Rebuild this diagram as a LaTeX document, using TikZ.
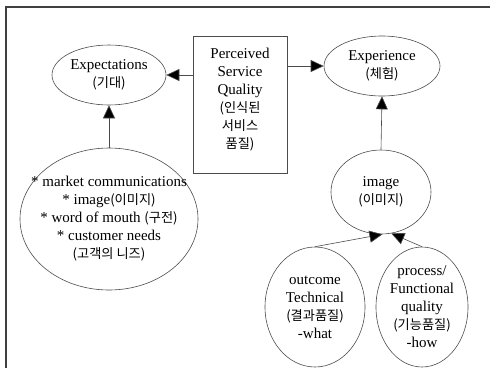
\documentclass[tikz,border=0pt]{standalone}
\usepackage{fontspec}
\setmainfont{Liberation Serif}
\newfontfamily\kr{Noto Sans CJK KR}[Scale=0.88]
\usetikzlibrary{shapes.geometric,arrows.meta}

\begin{document}
\begin{tikzpicture}[x=1pt,y=1pt,
        every node/.style={font=\fontsize{15}{18}\selectfont,align=center,inner sep=0pt},
        oval/.style={ellipse,draw=black!70,line width=0.6pt},
        box/.style={rectangle,draw=black!70,line width=0.6pt}]
        \tikzset{edge/.style = {-{Triangle[length=13pt,width=12pt,fill=black]},draw=black!70,line width=0.6pt}}
        \useasboundingbox (0,0) rectangle (490,-368);
        \draw[black!75,line width=1.3pt] (6,-368) -- (6,-7) -- (490,-7);

        \node[box,minimum width=94pt,minimum height=137pt] (psq) at (240,-104.5) {Perceived\\Service\\Quality\\{\kr(인식된}\\{\kr 서비스}\\{\kr 품질)}\\[-5pt]\mbox{}};
        \node[oval,minimum width=114pt,minimum height=60pt] (exp) at (109,-75) {Expectations\\{\kr(기대)}};
        \node[oval,minimum width=116pt,minimum height=60pt] (xp) at (382,-66) {Experience\\{\kr(체험)}};
        \node[oval,minimum width=178pt,minimum height=142pt] (factors) at (109,-219) {};
        \node (factorlist) at (factors) {* market communications\\* image{\kr(이미지)}\\* word of mouth {\kr(구전)}\\* customer needs\\{\kr(고객의 니즈)}};
        \node[oval,minimum width=100pt,minimum height=84pt] (img) at (381,-192) {image\\{\kr(이미지)}};
        \node[oval,minimum width=100pt,minimum height=120pt] (tech) at (315,-307) {outcome\\Technical\\{\kr(결과품질)}\\-what};
        \node[oval,minimum width=92pt,minimum height=120pt] (func) at (422,-307) {process/\\Functional\\quality\\{\kr(기능품질)}\\-how};

        \draw[edge] (psq.west |- exp.east) -- (exp.east);
        \draw[edge] (psq.east |- xp.west) -- (xp.west);
        \draw[edge] (factors.north) -- (exp.south);
        \draw[edge] (img.north) -- (xp.south);
        \draw[edge] (tech.north) -- (img.-88);
        \draw[edge] (func.north) -- (img.-76);
\end{tikzpicture}
\end{document}
